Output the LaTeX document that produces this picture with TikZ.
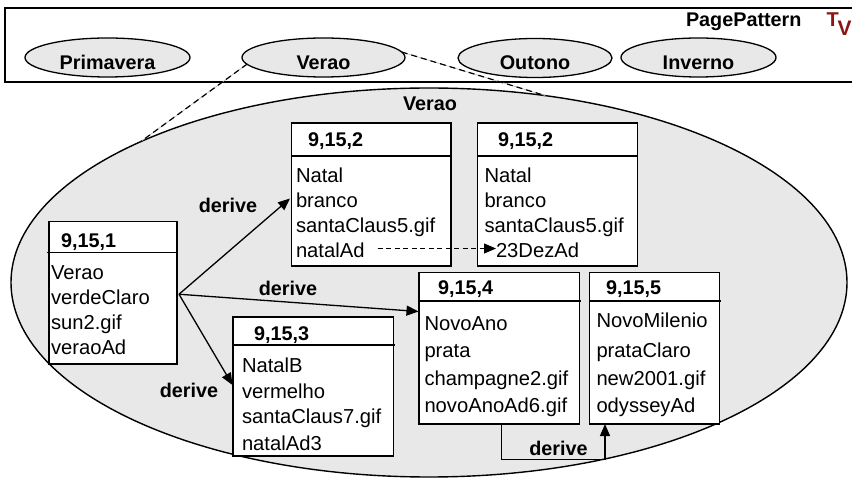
\documentclass[tikz,border=0pt]{standalone}
\usepackage{fontspec}
\setmainfont{Liberation Sans}
\usetikzlibrary{shapes.geometric,arrows.meta,calc}
\definecolor{lightfill}{RGB}{232,232,232}
\definecolor{tvred}{RGB}{140,20,20}
\begin{document}
\begin{tikzpicture}[x=1pt,y=-1pt,
  every node/.style={inner sep=0pt, outer sep=0pt},
  txt/.style={font=\fontsize{20.2}{23}\selectfont, anchor=base west},
  btxt/.style={font=\bfseries\fontsize{19.8}{23}\selectfont},
  hdr/.style={btxt, anchor=base west},
  umlbox/.style={draw, line width=1.6pt, fill=white, anchor=north west},
  hline/.style={line width=1.6pt},
  topell/.style={ellipse, draw, line width=1.3pt, fill=lightfill, minimum height=39pt, text height=23.6pt, text depth=0pt, btxt},
  arr/.style={line width=1.3pt, -{Triangle[length=12pt,width=10pt]}},
  lbl/.style={btxt, anchor=base},
  tvtxt/.style={anchor=base west, text=tvred},
  dashcon/.style={line width=1.2pt, dash pattern=on 6pt off 4pt, preaction={draw=gray!55, line width=0.6pt, solid}}
]
\useasboundingbox (0,0) rectangle (852,478);

% top pattern bar
\node[draw, line width=1.6pt, minimum width=850pt, minimum height=74pt, anchor=north west] (pp) at (5,8) {};
\node[btxt, anchor=base west] (ppt) at (686,26.7) {PagePattern};
\node[tvtxt, font=\bfseries\fontsize{20}{22}\selectfont] (tvT) at (826.5,27) {T};
\node[tvtxt, font=\bfseries\fontsize{21}{22}\selectfont] (tvV) at (837.5,36) {V};

\node[topell, minimum width=165pt] (prim) at (107.5,57.5) {Primavera};
\node[topell, minimum width=163pt] (vt) at (323.5,57.5) {Verao};
\node[topell, minimum width=154pt] (out) at (535,58) {Outono};
\node[topell, minimum width=155pt] (inv) at (698.5,57.5) {Inverno};

% big ellipse
\node[ellipse, draw, line width=1.4pt, fill=lightfill, minimum width=836pt, minimum height=389pt] (ve) at (429,282.5) {};
\node[lbl] (vl) at (430,110.7) {Verao};

\draw[dashcon] (vt.185) -- (ve.154.5);
\draw[dashcon] (vt.4) -- (ve.58.4);

% boxes
\node[umlbox, minimum width=128pt, minimum height=142.5pt] (A) at (49,221.5) {};
\draw[hline] ($(A.north west)+(-2,31)$) -- ($(A.north east)+(0,31)$);
\node[umlbox, minimum width=159.5pt, minimum height=143pt] (B) at (291.5,123) {};
\draw[hline] ($(B.north west)+(0,33)$) -- ($(B.north east)+(0,33)$);
\node[umlbox, minimum width=160pt, minimum height=143pt] (C) at (477.5,123) {};
\draw[hline] ($(C.north west)+(0,33)$) -- ($(C.north east)+(0,33)$);
\node[umlbox, minimum width=160.5pt, minimum height=151.5pt] (D) at (419,272.5) {};
\draw[hline] ($(D.north west)+(0,28.5)$) -- ($(D.north east)+(1.5,28.5)$);
\node[umlbox, minimum width=130pt, minimum height=151.5pt] (E) at (589.5,272.5) {};
\draw[hline] ($(E.north west)+(0,28.5)$) -- ($(E.north east)+(1.5,28.5)$);
\node[umlbox, minimum width=160.5pt, minimum height=139pt] (F) at (233,317) {};
\draw[hline] ($(F.north west)+(0,28)$) -- ($(F.north east)+(1.5,28)$);

% headers
\node[hdr] (Ah) at (61,247.5) {9,15,1};
\node[hdr] (Bh) at (308,146.5) {9,15,2};
\node[hdr] (Ch) at (498,146.5) {9,15,2};
\node[hdr] (Dh) at (438,295) {9,15,4};
\node[hdr] (Eh) at (606,295) {9,15,5};
\node[hdr] (Fh) at (254,341) {9,15,3};

% body texts
\foreach \t/\yy [count=\i] in {Verao/280,verdeClaro/305,sun2.gif/330,veraoAd/355}
  \node[txt] (A\i) at (51,\yy) {\t};
\foreach \t/\yy [count=\i] in {Natal/183,branco/208,santaClaus5.gif/233,natalAd/258}
  \node[txt] (B\i) at (296,\yy) {\t};
\foreach \t/\yy [count=\i] in {Natal/183,branco/208,santaClaus5.gif/233}
  \node[txt] (C\i) at (484.5,\yy) {\t};
\node[txt] (C4) at (496,258) {23DezAd};
\foreach \t/\yy [count=\i] in {NovoAno/331,prata/358,champagne2.gif/386,novoAnoAd6.gif/412.5}
  \node[txt] (D\i) at (424.5,\yy) {\t};
\foreach \t/\yy [count=\i] in {NovoMilenio/328,prataClaro/358,new2001.gif/386,odysseyAd/413}
  \node[txt] (E\i) at (596.5,\yy) {\t};
\foreach \t/\yy [count=\i] in {NatalB/372.7,vermelho/398.3,santaClaus7.gif/424,natalAd3/450}
  \node[txt] (F\i) at (242,\yy) {\t};

% derive arrows
\coordinate (P) at ($(A.east)+(2,1.5)$);
\draw[arr] (P) -- ($(B.west)+(-1.5,4)$);
\draw[arr] (P) -- ($(D.north west)+(-0.5,39)$);
\draw[arr] (P) -- ($(F.west)+(-0.5,-1.5)$);
\draw[arr] ($(D.south)+(2,0)$) -- ++(0,35.3) -| ($(E.south west)+(15.5,0)$);
\draw[line width=0.9pt, dash pattern=on 5pt off 3.5pt, -{Triangle[length=12pt,width=10pt]}] ($(B4.base east)+(13,-9.5)$) -- ($(C4.base west)+(0,-9.5)$);

\node[lbl] (d1) at (228,213) {derive};
\node[lbl] (d2) at (288,296) {derive};
\node[lbl] (d3) at (189,398) {derive};
\node[lbl] (d4) at (558.5,455) {derive};
\end{tikzpicture}
\end{document}
